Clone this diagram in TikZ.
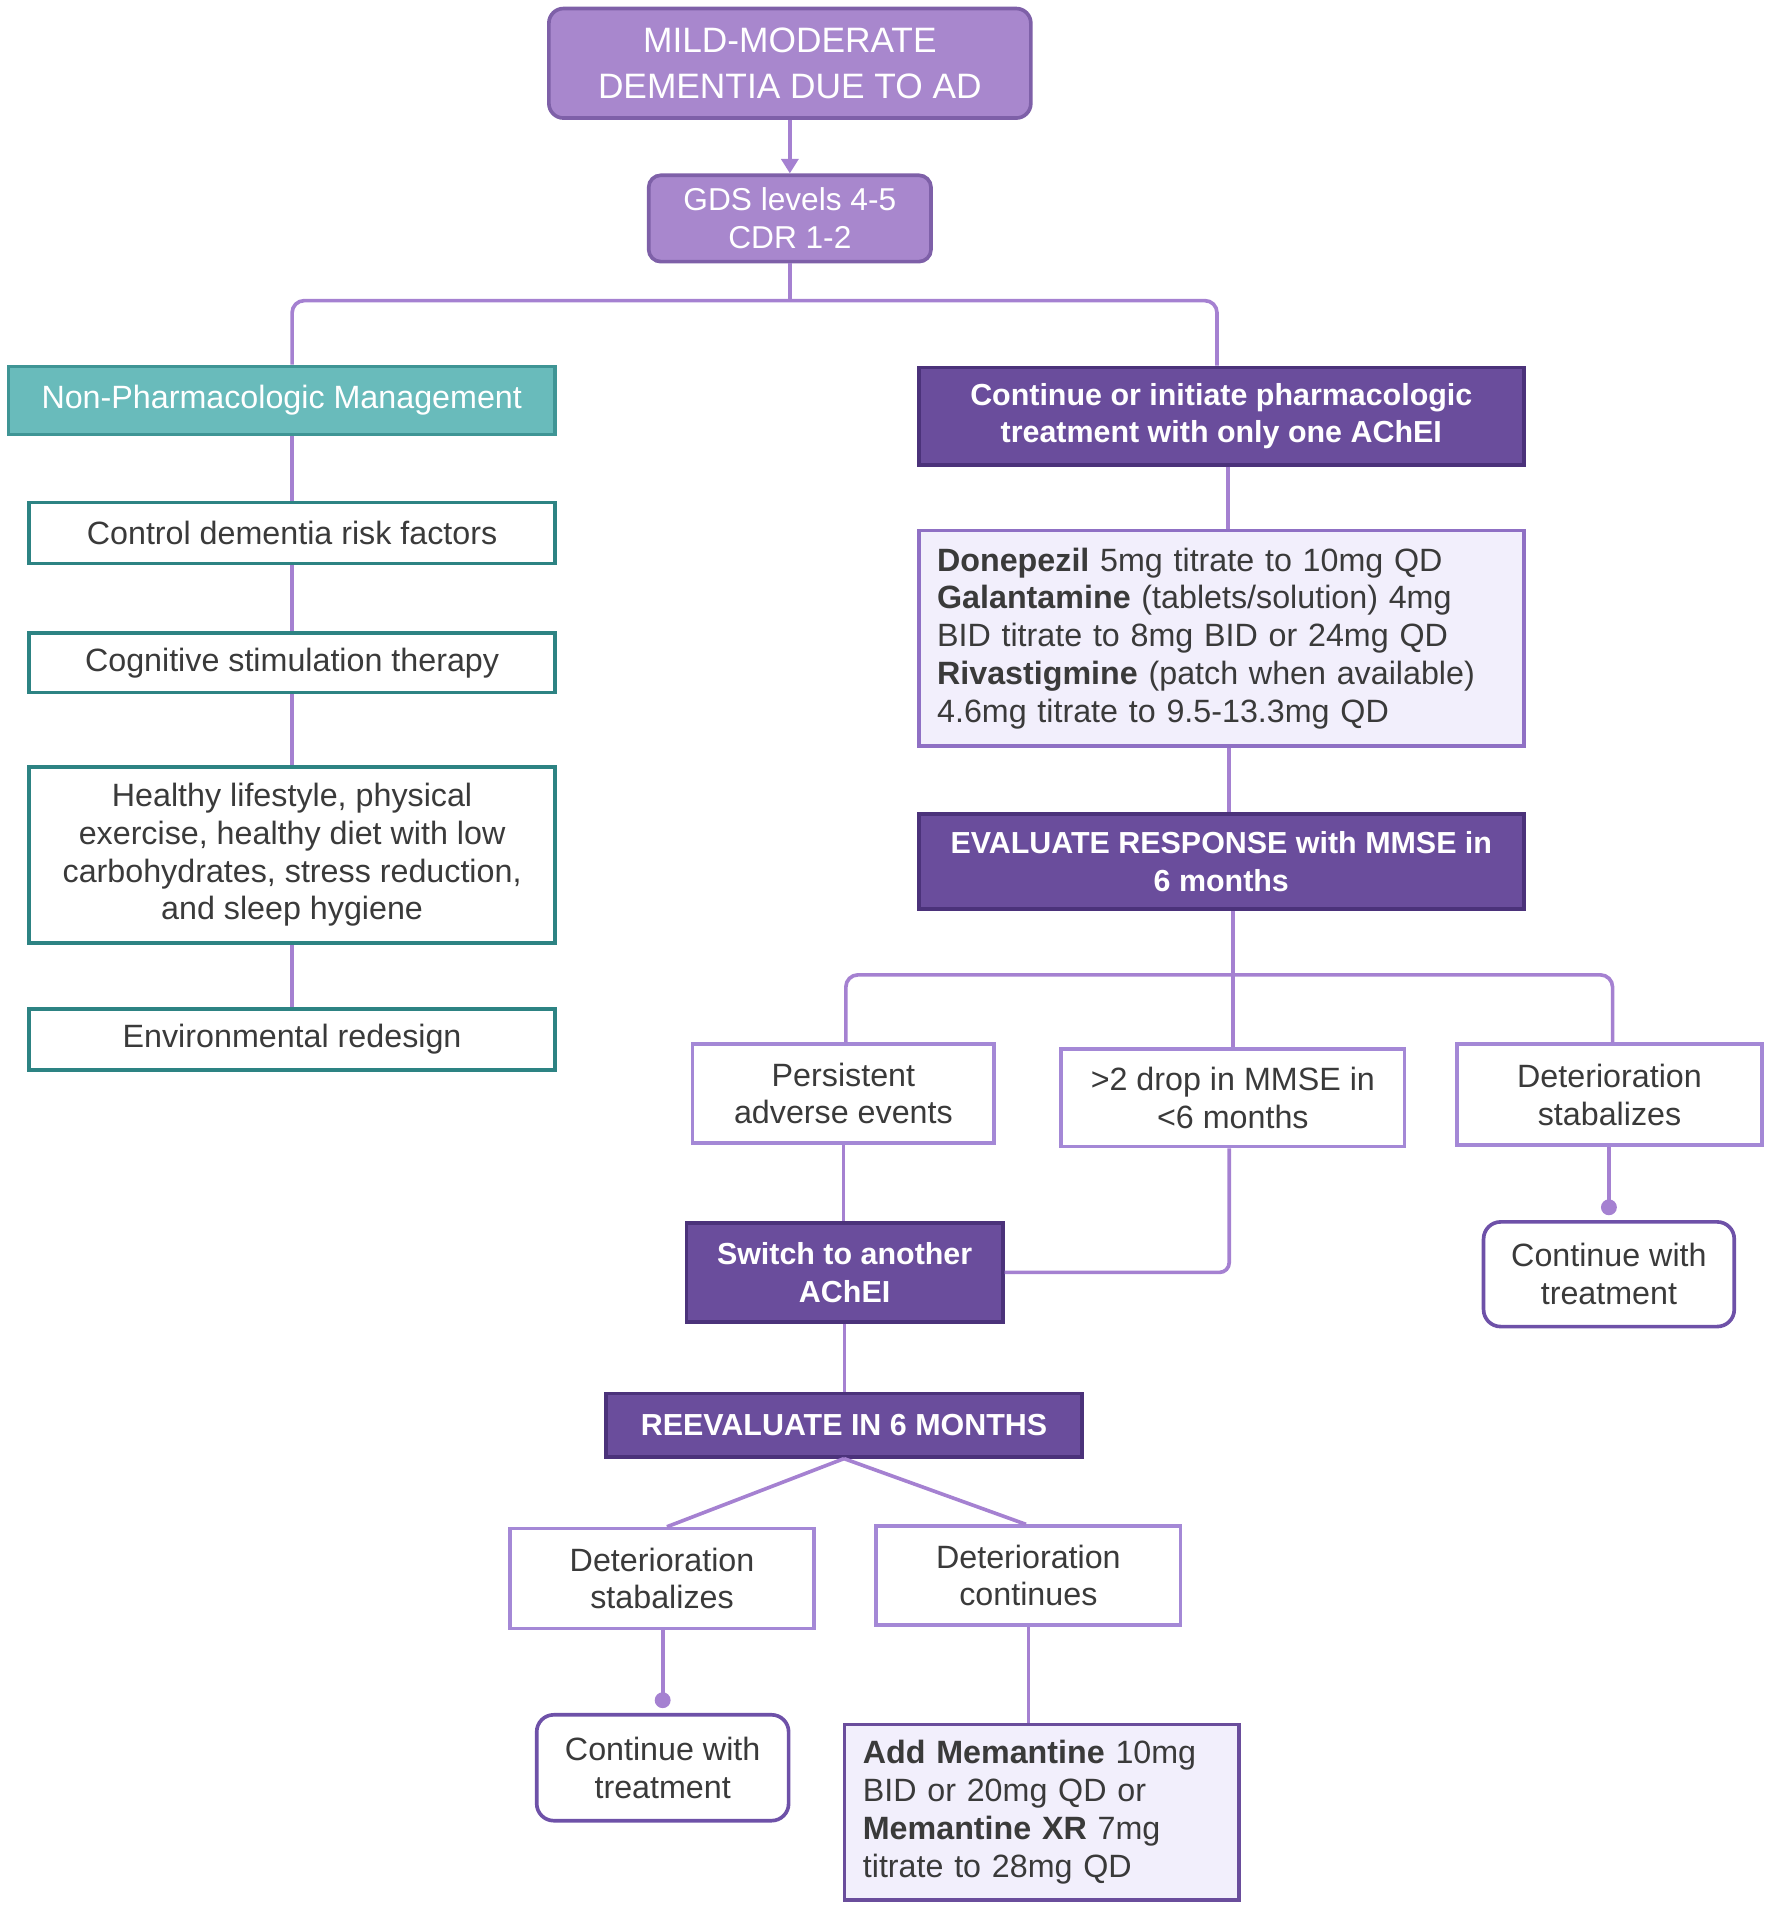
\documentclass[tikz,border=0pt]{standalone}
\usepackage{fontspec}
\setmainfont{Liberation Sans}
\usetikzlibrary{arrows.meta}
\definecolor{topfill}{HTML}{A887CD}
\definecolor{topbd}{HTML}{7E60A8}
\definecolor{darkfill}{HTML}{6A4D9C}
\definecolor{darkbd}{HTML}{4B327A}
\definecolor{tealfill}{HTML}{69BBBB}
\definecolor{tealbd}{HTML}{3F9595}
\definecolor{tealline}{HTML}{2D8383}
\definecolor{lavbd}{HTML}{A488D6}
\definecolor{contbd}{HTML}{6E51A8}
\definecolor{drugfill}{HTML}{F2EFFC}
\definecolor{drugbd}{HTML}{8F70C4}
\definecolor{lineclr}{HTML}{A581D1}
\definecolor{txt}{HTML}{3A3A3A}
\newcommand{\fbody}{\fontsize{13.25}{15.5}\selectfont}
\newcommand{\fhead}{\fontsize{12.5}{15.5}\selectfont\bfseries}
\newcommand{\ftop}{\fontsize{14.5}{19}\selectfont}
\newcommand{\fgds}{\fontsize{13}{15.5}\selectfont}
\begin{document}
\begin{tikzpicture}[x=0.5pt,y=-0.5pt,
  base/.style={inner sep=0pt, font=\fbody, text=txt, align=center, line width=1.5pt},
  topbox/.style={base, draw=topbd, fill=topfill, text=white, rounded corners=6pt},
  darkbox/.style={base, draw=darkbd, fill=darkfill, text=white, font=\fhead},
  tealhead/.style={base, draw=tealbd, fill=tealfill, text=white},
  tealbox/.style={base, draw=tealline, fill=white},
  lavbox/.style={base, draw=lavbd, fill=white},
  contbox/.style={base, draw=contbd, fill=white, rounded corners=7pt},
  drugbox/.style={base, fill=drugfill, align=left, inner xsep=7.5pt},
  conn/.style={draw=lineclr, line width=1.5pt},
  dot/.style={-{Circle[length=6.5pt,width=6.5pt,fill=lineclr]}}
]
\useasboundingbox (0,0) rectangle (1456,1569.4);

% top
\node[topbox, font=\ftop, minimum width=198pt, minimum height=45pt] (top) at (649,52) {MILD-MODERATE\\DEMENTIA DUE TO AD};
\node[topbox, font=\fgds, rounded corners=5pt, minimum width=116pt, minimum height=35.5pt] (gds) at (649,179.5) {GDS levels 4-5\\CDR 1-2};

% left column
\node[tealhead, minimum width=224.5pt, minimum height=28pt] (nonph) at (231.5,329) {Non-Pharmacologic Management};
\node[tealbox, minimum width=216pt, minimum height=25pt] (ctrl) at (240,438) {Control dementia risk factors};
\node[tealbox, minimum width=216pt, minimum height=24.5pt] (cog) at (240,544.5) {Cognitive stimulation therapy};
\node[tealbox, minimum width=216pt, minimum height=72.5pt] (healthy) at (240,702.5) {Healthy lifestyle, physical\\exercise, healthy diet with low\\carbohydrates, stress reduction,\\and sleep hygiene};
\node[tealbox, minimum width=216pt, minimum height=25pt] (env) at (240,854) {Environmental redesign};

% right column
\node[darkbox, minimum width=248.5pt, minimum height=40pt] (pharm) at (1003.5,342) {Continue or initiate pharmacologic\\treatment with only one AChEI};
\node[drugbox, draw=drugbd, text width=233.5pt, minimum width=248.5pt, minimum height=88.5pt] (drugs) at (1003.5,524.5) {\textbf{Donepezil} 5mg titrate to 10mg QD\\\textbf{Galantamine} (tablets/solution) 4mg\\BID titrate to 8mg BID or 24mg QD\\\textbf{Rivastigmine} (patch when available)\\4.6mg titrate to 9.5-13.3mg QD};
\node[darkbox, minimum width=248.5pt, minimum height=39pt] (eval) at (1003.5,708) {EVALUATE RESPONSE with MMSE in\\6 months};

\node[lavbox, minimum width=124pt, minimum height=40.5pt] (persist) at (693,898.5) {Persistent\\adverse events};
\node[lavbox, minimum width=141pt, minimum height=40pt] (drop) at (1013,902) {>2 drop in MMSE in\\<6 months};
\node[lavbox, minimum width=125.5pt, minimum height=41.5pt] (detst1) at (1322.5,899.5) {Deterioration\\stabalizes};
\node[contbox, minimum width=103pt, minimum height=43pt] (cont1) at (1322,1047) {Continue with\\treatment};
\node[darkbox, minimum width=130pt, minimum height=40.5pt] (switch) at (694,1045.5) {Switch to another\\AChEI};
\node[darkbox, minimum width=195.5pt, minimum height=26pt] (reeval) at (693.5,1171) {REEVALUATE IN 6 MONTHS};
\node[lavbox, minimum width=125pt, minimum height=41pt] (detst2) at (544,1297) {Deterioration\\stabalizes};
\node[lavbox, minimum width=125pt, minimum height=40.5pt] (detco) at (845,1294.5) {Deterioration\\continues};
\node[contbox, minimum width=103.5pt, minimum height=43.5pt] (cont2) at (544.5,1452.5) {Continue with\\treatment};
\node[drugbox, draw=darkfill, text width=147pt, minimum width=162pt, minimum height=72pt] (mem) at (856,1489) {\textbf{Add Memantine} 10mg\\BID or 20mg QD or\\\textbf{Memantine XR} 7mg\\titrate to 28mg QD};

% connectors
\draw[conn, -{Triangle[length=6pt,width=7pt]}] (top) -- (gds);
\coordinate (hb) at (649,247);
\coordinate (hl) at (240,247);
\coordinate (hr) at (1000,247);
\draw[conn] (gds) -- (hb);
\draw[conn, rounded corners=5pt] (nonph.north -| hl) -- (hl) -- (hr) -- (pharm.north -| hr);

\draw[conn] (nonph.south -| ctrl.north) -- (ctrl.north);
\draw[conn] (ctrl) -- (cog);
\draw[conn] (cog) -- (healthy);
\draw[conn] (healthy) -- (env);

\draw[conn] ([xshift=2.75pt]pharm.south) -- ([xshift=2.75pt]drugs.north);
\draw[conn] ([xshift=3.25pt]drugs.south) -- ([xshift=3.25pt]eval.north);

\coordinate (el) at (695,801);
\coordinate (er) at (1325,801);
\draw[conn, rounded corners=5pt] (persist.north -| el) -- (el) -- (er) -- (detst1.north -| er);
\draw[conn] (eval.south -| drop.north) -- (drop.north);

\draw[conn] (persist.south) -- (persist.south |- switch.north);
\draw[conn, rounded corners=4pt] ([xshift=-1.5pt]drop.south) |- (switch.east);
\draw[conn, dot] (detst1.south -| cont1.north) -- ([yshift=2pt]cont1.north);

\draw[conn] (switch.south) -- (switch.south |- reeval.north);
\draw[conn] (reeval.south) -- ([xshift=2pt]detst2.north);
\draw[conn] (reeval.south) -- ([xshift=-1pt]detco.north);
\draw[conn, dot] (detst2.south -| cont2.north) -- ([yshift=2pt]cont2.north);
\draw[conn] (detco.south) -- (detco.south |- mem.north);
\end{tikzpicture}
\end{document}
